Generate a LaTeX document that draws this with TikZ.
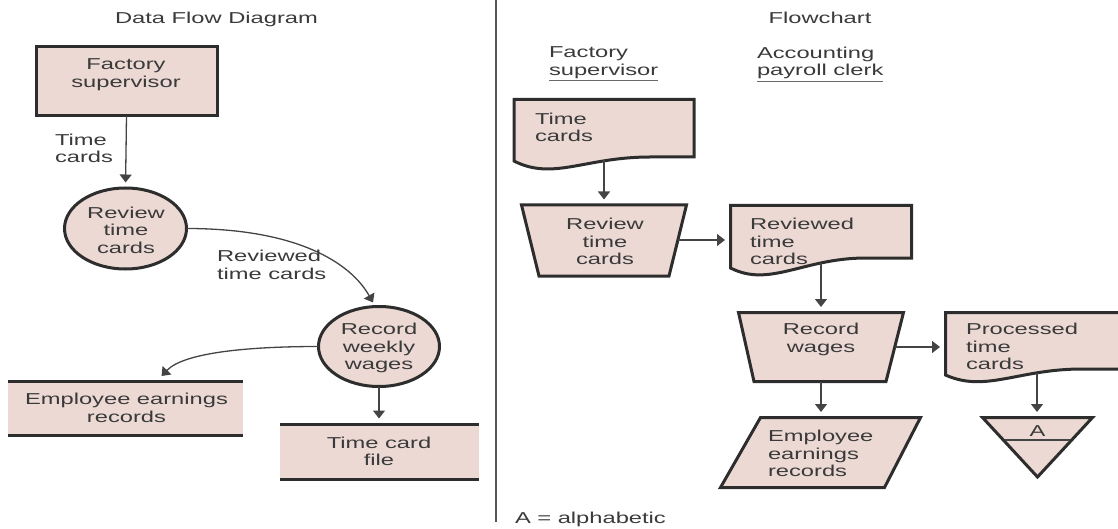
\documentclass[tikz,border=0pt]{standalone}
\usepackage{fontspec}
\setmainfont[FakeStretch=1.5]{Liberation Sans}
\usetikzlibrary{shapes.geometric,arrows.meta,calc}
\definecolor{fillc}{RGB}{236,217,211}
\definecolor{edgec}{RGB}{45,45,45}
\definecolor{txtc}{RGB}{58,58,58}
\definecolor{arrc}{RGB}{68,68,68}
\newcommand\fsz{\fontsize{15.8}{17.5}\selectfont}
\begin{document}
\begin{tikzpicture}[x=1pt,y=-1pt,
  every node/.style={inner sep=0pt, outer sep=0pt, text=txtc, font=\fsz},
  lbl/.style={anchor=north, align=center},
  lbll/.style={anchor=north west, align=left},
  shapebox/.style={draw=edgec, line width=3pt, fill=fillc},
  border/.style={draw=edgec, line width=3pt, fill=fillc, line join=miter},
  storebox/.style={fill=fillc, draw=none},
  storeline/.style={draw=edgec, line width=3pt},
  arr/.style={draw=arrc, line width=1.3pt, shorten >=5.5pt, -{Triangle[width=12pt,length=8pt]}},
  thin/.style={draw=arrc, line width=1.3pt},
  uline/.style={draw=arrc!80, line width=1.2pt},
  divider/.style={draw=arrc!90, line width=1.5pt}
]
\useasboundingbox (0,0) rectangle (1118,529);

% ---------- titles and divider ----------
\node[lbl] (t-dfd) at (216.5,12) {Data Flow Diagram};
\node[lbl] (t-fc) at (820,12) {Flowchart};
\coordinate (div-top) at (496,0);
\coordinate (div-bot) at (496,522);
\draw[divider] (div-top) -- (div-bot);

% ---------- Data flow diagram ----------
\node[shapebox, minimum width=181, minimum height=69] (fs) at (126.5,81.5) {};
\node[lbl] (fs-t) at (126,59) {Factory\\supervisor};

\node[lbll] (l-tc) at (55,134) {Time\\cards};

\node[shapebox, ellipse, minimum width=122, minimum height=81] (rvc) at (125.5,228.5) {};
\node[lbl] (rvc-t) at (126,207) {Review\\time\\cards};

\node[lbll] (l-rtc) at (217,250.5) {Reviewed\\time cards};

\node[shapebox, ellipse, minimum width=121, minimum height=80] (rwc) at (379,346.5) {};
\node[lbl] (rwc-t) at (379,323.5) {Record\\weekly\\wages};

\node[storebox, minimum width=235, minimum height=54] (es) at (125.5,408) {};
\draw[storeline] (es.north west) -- (es.north east);
\draw[storeline] (es.south west) -- (es.south east);
\node[lbl] (es-t) at (126.5,393.3) {Employee earnings\\records};

\node[storebox, minimum width=199, minimum height=55] (tf) at (379,451.5) {};
\draw[storeline] (tf.north west) -- (tf.north east);
\draw[storeline] (tf.south west) -- (tf.south east);
\node[lbl] (tf-t) at (379,436.7) {Time card\\file};

\draw[arr] (fs.south) -- (rvc.north);
\draw[arr, shorten >=0pt] (rvc.east) .. controls +(112,0) and +(-22,-39) .. ($(rwc.north)+(-6,-4)$);
\draw[arr, shorten >=0pt] (rwc.west) .. controls +(-67,0) and +(23,-24) .. ($(es.north)+(36,-5)$);
\draw[arr] (rwc.south) -- (tf.north);

% ---------- Flowchart ----------
\node[lbll] (h-fs) at (549,47) {Factory\\supervisor};
\draw[uline] ($(h-fs.south west)+(0,2.2)$) -- ($(h-fs.south east)+(0,2.2)$);
\node[lbll] (h-ac) at (757,47) {Accounting\\payroll clerk};
\draw[uline] ($(h-ac.south west)+(0,2.2)$) -- ($(h-ac.south east)+(0,2.2)$);

% Time cards document
\draw[border] (694,157) -- (694,99.5) -- (514,99.5) -- (514,161)
  .. controls (553,181) and (585,157) .. (650,157) -- cycle;
\node[lbll] (tc-t) at (535,113) {Time\\cards};
\coordinate (tc-b) at (604,160.5);

% Review time cards (manual operation)
\draw[border] (521.5,205) -- (686.5,205) -- (669,276) -- (539,276) -- cycle;
\node[lbl] (rv-t) at (605,218.3) {Review\\time\\cards};
\coordinate (rv-top) at (604,205);
\coordinate (rv-r) at (678,240);

% Reviewed time cards document
\draw[border] (911.5,258) -- (911.5,205.5) -- (730.5,205.5) -- (730.5,268)
  .. controls (770,288) and (803,258) .. (866,258) -- cycle;
\node[lbll] (rd-t) at (750,218.3) {Reviewed\\time\\cards};
\coordinate (rd-l) at (730.5,240);
\coordinate (rd-b) at (821,262.5);

% Record wages (manual operation)
\draw[border] (738.5,312.5) -- (903.5,312.5) -- (886,381.5) -- (754,381.5) -- cycle;
\node[lbl] (rw-t) at (821,323.3) {Record\\wages};
\coordinate (rw-top) at (821,312.5);
\coordinate (rw-r) at (895,347);
\coordinate (rw-b) at (821,381.5);

% Processed time cards document (runs off the right edge)
\draw[border] (1130,369) -- (1130,312.5) -- (945.5,312.5) -- (945.5,375)
  .. controls (985.5,393) and (1018,369) .. (1082,369) -- cycle;
\node[lbll] (pd-t) at (966,323.3) {Processed\\time\\cards};
\coordinate (pd-l) at (945.5,347);
\coordinate (pd-b) at (1037,372.5);

% Employee earnings records (parallelogram)
\draw[border] (760.5,417.5) -- (920.5,417.5) -- (884.5,487.5) -- (720.5,487.5) -- cycle;
\node[lbll] (pe-t) at (768,430.5) {Employee\\earnings\\records};
\coordinate (pe-top) at (821,417.5);

% Off-line file triangle
\draw[border] (982.5,417.5) -- (1092.5,417.5) -- (1037.5,477) -- cycle;
\coordinate (tri-l) at (1005,440);
\coordinate (tri-r) at (1070,440);
\draw[thin] (tri-l) -- (tri-r);
\node[lbl] (tri-a) at (1037.5,425.5) {A};
\coordinate (tri-top) at (1037,417.5);

\node[lbll] (legend) at (515,512) {A = alphabetic};

% connectors
\draw[arr] (tc-b) -- (rv-top);
\draw[arr] (rv-r) -- (rd-l);
\draw[arr] (rd-b) -- (rw-top);
\draw[arr] (rw-r) -- (pd-l);
\draw[arr] (rw-b) -- (pe-top);
\draw[arr] (pd-b) -- (tri-top);
\end{tikzpicture}
\end{document}
